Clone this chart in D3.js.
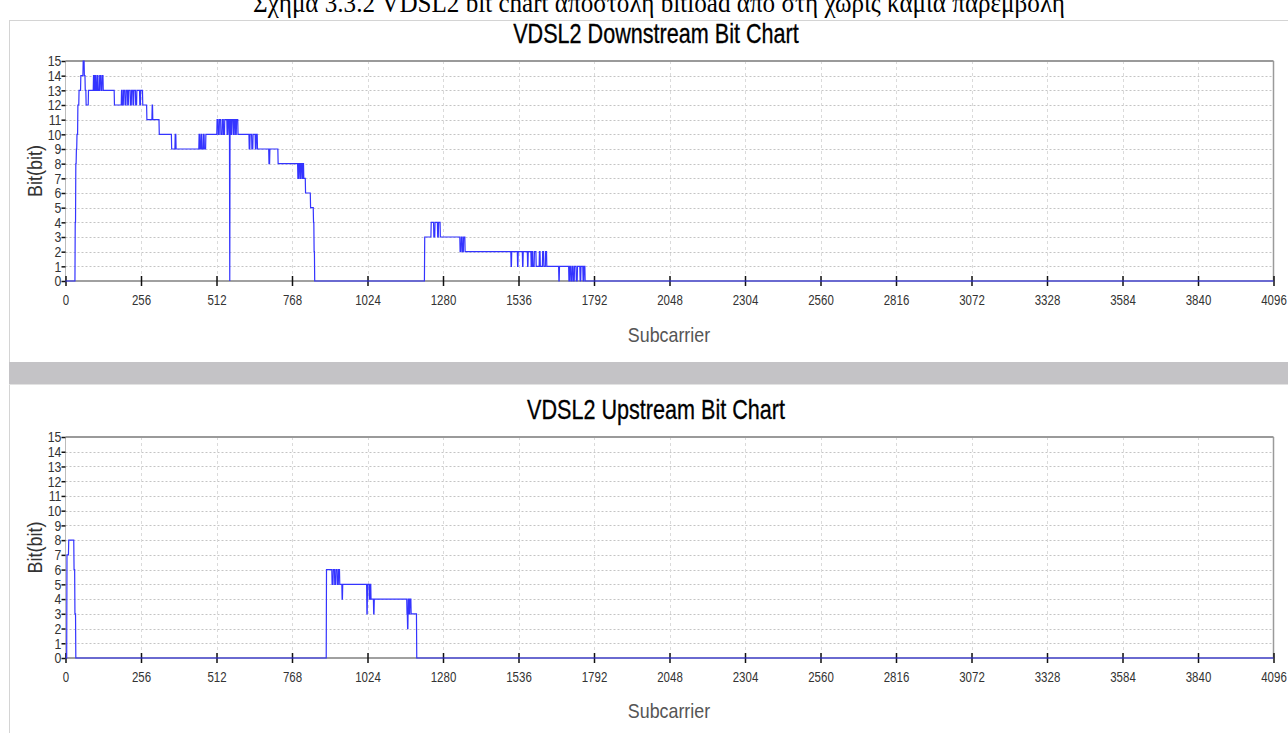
<!DOCTYPE html>
<html>
<head>
<meta charset="utf-8">
<script src="https://cdn.jsdelivr.net/npm/d3@7"></script>
<style>
  body { margin: 0; background: #fff; }
  svg text { font-family: "Liberation Sans", Arial, sans-serif; }
</style>
</head>
<body>
<svg id="display" width="1288" height="733"></svg>
<script>
var xTicks = [0, 256, 512, 768, 1024, 1280, 1536, 1792, 2048, 2304, 2560, 2816, 3072, 3328, 3584, 3840, 4096]
var xTickLabels = ["0", "256", "512", "768", "1024", "1280", "1536", "1792", "2048", "2304", "2560", "2816", "3072", "3328", "3584", "3840", "4096"]
var yTicks = [0, 1, 2, 3, 4, 5, 6, 7, 8, 9, 10, 11, 12, 13, 14, 15]

var caption = "Σχήμα 3.3.2 VDSL2 bit chart αποστολή bitload από στη χωρίς καμία παρεμβολή"
var titles = ["VDSL2 Downstream Bit Chart", "VDSL2 Upstream Bit Chart"]

// [first subcarrier, bits] - value holds until the next entry
var downstreamRuns = [
    [0, 0], [33, 4], [35, 8], [37, 9], [39, 10], [42, 12], [46, 13], [52, 14], [60, 15], [64, 14], [67, 13], [70, 12], [78, 13],
    [95, 14], [98, 13], [101, 14], [104, 13], [108, 14], [111, 13], [116, 14], [120, 13], [124, 14], [128, 13],
    [166, 12], [190, 13], [193, 12], [197, 13], [202, 12], [206, 13], [211, 12], [214, 13], [220, 12], [224, 13],
    [229, 12], [232, 13], [238, 12], [242, 13], [252, 12], [255, 13], [262, 12],
    [276, 11], [294, 12], [296, 11], [318, 10], [360, 9], [372, 10], [375, 9],
    [453, 10], [456, 9], [460, 10], [463, 9], [468, 10], [471, 9], [476, 10],
    [514, 11], [518, 10], [522, 11], [527, 10], [532, 11], [536, 10], [540, 11], [548, 10], [551, 11], [555, 10],
    [557, 0], [558, 11], [562, 10], [565, 11], [570, 10], [573, 11], [577, 10], [580, 11], [585, 10],
    [623, 9], [626, 10], [632, 9], [636, 10], [644, 9], [647, 10], [651, 9],
    [690, 8], [693, 9], [721, 8], [788, 7], [791, 8], [795, 7], [798, 8], [802, 7], [805, 8], [808, 7],
    [814, 6], [831, 5], [841, 4], [843, 2], [845, 0],
    [1218, 3], [1240, 4], [1249, 3], [1253, 4], [1262, 3], [1265, 4], [1271, 3],
    [1338, 2], [1342, 3], [1346, 2], [1350, 3], [1355, 2],
    [1511, 1], [1513, 2], [1533, 1], [1535, 2], [1550, 1], [1552, 2], [1567, 1], [1569, 2], [1579, 1], [1582, 2],
    [1585, 1], [1590, 2], [1596, 1], [1607, 2], [1610, 1], [1618, 2], [1622, 1], [1628, 2], [1632, 1],
    [1673, 0], [1675, 1], [1707, 0], [1710, 1], [1714, 0], [1718, 1], [1722, 0], [1726, 1], [1732, 0], [1736, 1],
    [1745, 0], [1748, 1], [1755, 0], [1758, 1], [1762, 0]
]

var upstreamRuns = [
    [0, 0], [5, 7], [11, 8], [29, 6], [32, 3], [35, 0],
    [885, 6], [904, 5], [908, 6], [913, 5], [917, 6], [922, 5], [926, 6], [930, 5], [938, 4], [940, 5],
    [1022, 3], [1024, 5], [1030, 4], [1033, 5], [1036, 4], [1045, 3], [1047, 4],
    [1158, 3], [1160, 2], [1162, 4], [1165, 3], [1168, 4], [1172, 3], [1191, 0]
]

var line_color = "#3434ff"
var svg = d3.select("svg#display")

// panels
svg.append("rect").attr("x", 9.5).attr("y", 20.5).attr("width", 1290).attr("height", 760)
    .attr("fill", "#fff").attr("stroke", "#d4d4d4")
svg.append("rect").attr("x", 9).attr("y", 362).attr("width", 1279).attr("height", 22).attr("fill", "#c4c3c6")
svg.append("line").attr("x1", 9).attr("x2", 1288).attr("y1", 384.5).attr("y2", 384.5).attr("stroke", "#e2e2e2")

// caption, cut by the top edge like in the screenshot
svg.append("text").attr("transform", "translate(659,12) scale(0.93,1)").attr("text-anchor", "middle")
    .style("font-family", "'Liberation Serif', 'DejaVu Serif', serif").style("font-size", "27px")
    .text(caption)

function expandRuns(runs) {
    var pts = []
    var k = 0
    for (var s = 0; s <= 4096; s++) {
        while (k + 1 < runs.length && runs[k + 1][0] <= s) k++
        pts.push([s, runs[k][1]])
    }
    return pts
}

function drawChart(runs, title, top, bottom, titleY, labelY) {
    var x = d3.scaleLinear().domain([0, 4096]).range([65.5, 1273.5])
    var y = d3.scaleLinear().domain([0, 15]).range([bottom, top])
    var g = svg.append("g")

    g.append("text").attr("transform", "translate(656," + titleY + ") scale(0.8,1)").attr("text-anchor", "middle")
        .style("font-size", "27px").attr("fill", "#000").attr("stroke", "#000").attr("stroke-width", 0.3).text(title)

    // grid
    g.append("g").selectAll("line").data(yTicks.slice(1, 15)).enter().append("line")
        .attr("x1", x(0)).attr("x2", x(4096))
        .attr("y1", function (d) { return Math.round(y(d)) + 0.5 })
        .attr("y2", function (d) { return Math.round(y(d)) + 0.5 })
        .attr("stroke", "#c4c4c4").attr("stroke-dasharray", "2,2")
    g.append("g").selectAll("line").data(xTicks.slice(1, 16)).enter().append("line")
        .attr("x1", function (d) { return Math.round(x(d)) + 0.5 })
        .attr("x2", function (d) { return Math.round(x(d)) + 0.5 })
        .attr("y1", top).attr("y2", bottom)
        .attr("stroke", "#dadada").attr("stroke-dasharray", "3,3")

    // frame
    g.append("line").attr("x1", x(0)).attr("x2", x(4096)).attr("y1", top).attr("y2", top)
        .attr("stroke", "#9a9a9a").attr("stroke-width", 2)
    g.append("line").attr("x1", x(4096)).attr("x2", x(4096)).attr("y1", top).attr("y2", bottom)
        .attr("stroke", "#9a9a9a").attr("stroke-width", 1.5)
    g.append("line").attr("x1", x(0)).attr("x2", x(0)).attr("y1", top).attr("y2", bottom)
        .attr("stroke", "#bbb")
    g.append("line").attr("x1", x(0)).attr("x2", x(4096)).attr("y1", bottom).attr("y2", bottom)
        .attr("stroke", "#a0a0a0").attr("stroke-width", 2)

    var xAxis = g.append("g").attr("transform", "translate(0," + bottom + ")")
        .call(d3.axisBottom(x).tickValues(xTicks).tickSize(5).tickPadding(9)
            .tickFormat(function (d, i) { return xTickLabels[i] }))
    xAxis.select(".domain").remove()
    xAxis.selectAll(".tick line").attr("y1", -5).attr("stroke", "#111").attr("stroke-width", 1.5)
    xAxis.selectAll(".tick text").style("font-size", "14px").attr("fill", "#333")
        .attr("transform", "scale(0.82,1)")

    var yAxis = g.append("g").attr("transform", "translate(" + x(0) + ",0)")
        .call(d3.axisLeft(y).tickValues(yTicks).tickSize(4).tickPadding(1))
    yAxis.select(".domain").remove()
    yAxis.selectAll(".tick line").attr("stroke", "#111").attr("stroke-width", 1.5)
    yAxis.selectAll(".tick text").style("font-size", "15px").attr("fill", "#333")
        .attr("transform", "scale(0.82,1)")

    var line = d3.line()
        .x(function (d) { return x(d[0]) })
        .y(function (d) { return y(d[1]) })
    g.append("path").datum(expandRuns(runs)).attr("d", line)
        .attr("fill", "none").attr("stroke", line_color).attr("stroke-width", 1.2)

    g.append("text").attr("transform", "translate(42," + ((top + bottom) / 2) + ") rotate(-90) scale(0.9,1)")
        .attr("text-anchor", "middle").style("font-size", "20px").attr("fill", "#333").text("Bit(bit)")
    g.append("text").attr("transform", "translate(669," + labelY + ") scale(0.85,1)").attr("text-anchor", "middle")
        .style("font-size", "21px").attr("fill", "#555").text("Subcarrier")
}

drawChart(downstreamRuns, titles[0], 61, 281, 43, 342)
drawChart(upstreamRuns, titles[1], 437, 658, 419, 718)
</script>
</body>
</html>
